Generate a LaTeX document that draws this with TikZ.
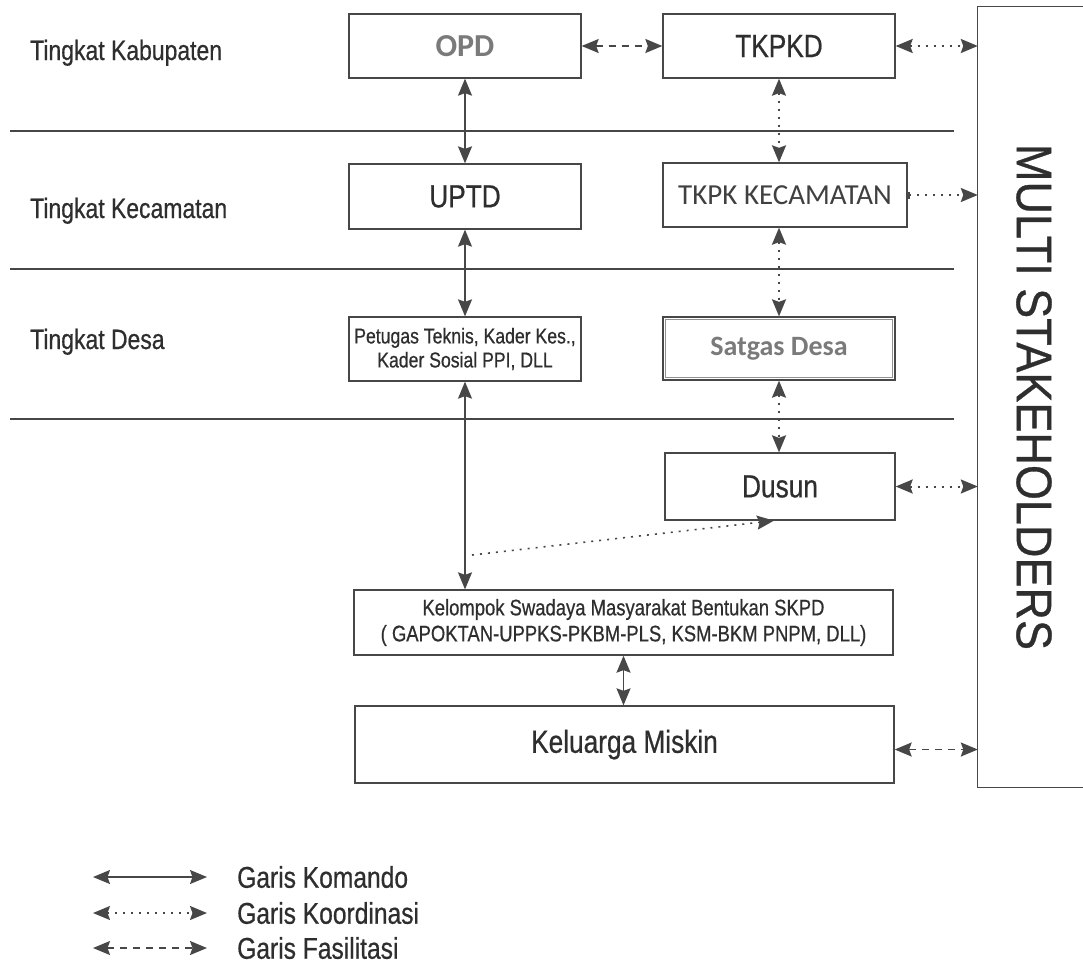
\documentclass[tikz,border=0pt]{standalone}
\usepackage{fontspec}
\setmainfont[FakeStretch=0.82,FakeBold=0.6]{Liberation Sans}
\newfontfamily\multifont[FakeStretch=0.9,FakeBold=0.6]{Liberation Sans}
\newfontfamily\calfont{Carlito}
\usetikzlibrary{arrows.meta}
\definecolor{linegray}{HTML}{474747}
\definecolor{textgray}{HTML}{2E2E2E}
\definecolor{softgray}{HTML}{7A7A7A}
\newcommand\fslabel{\fontsize{28}{32}\selectfont}
\newcommand\fsbox{\fontsize{32}{36}\selectfont}
\newcommand\fssmall{\fontsize{21.5}{24}\selectfont}
\newcommand\fskel{\fontsize{22.5}{26}\selectfont}
\newcommand\fsmulti{\multifont\fontsize{50}{56}\selectfont}
\tikzset{
  ujung/.tip={Stealth[length=17pt,width=14pt,inset=2.5pt]},
  kotak/.style={draw=linegray, line width=1.3pt, fill=white, inner sep=0pt, text=textgray, align=center},
  tingkat/.style={anchor=base west, inner sep=0pt, text=textgray, font=\fslabel},
  komando/.style={draw=linegray, line width=1.5pt, ujung-ujung},
  koordinasi/.style={draw=linegray, line width=2pt, dash pattern=on 2pt off 6pt, ujung-ujung},
  fasilitasi/.style={draw=linegray, line width=1.7pt, dash pattern=on 7pt off 6pt, ujung-ujung}
}
\begin{document}
\begin{tikzpicture}[x=1pt,y=-1pt]
	%%%%% START %%%%%
	\def\xkiri{465}
	\def\xkanan{779}
	\def\wkol{232pt}
	\def\hkol{64pt}
	\def\wbawah{539pt}
	
	\useasboundingbox (0,0) rectangle (1083,977);
	
	% garis tingkat
	\foreach \yy in {131,269,419}
		\draw[linegray, line width=1.2pt] (10,\yy) -- (954,\yy);
	
	\node[tingkat] (tkab) at (30,60) {Tingkat Kabupaten};
	\node[tingkat] (tkec) at (30,218) {Tingkat Kecamatan};
	\node[tingkat] (tdes) at (30,349) {Tingkat Desa};
	
	% kolom kiri
	\node[kotak, minimum width=\wkol, minimum height=\hkol, font=\calfont\bfseries\fontsize{32}{36}\selectfont, text=softgray] (opd) at (\xkiri,46) {OPD};
	\node[kotak, minimum width=\wkol, minimum height=65pt, font=\fsbox] (uptd) at (\xkiri,196.5) {UPTD};
	\node[kotak, minimum width=\wkol, minimum height=\hkol, font=\fssmall] (petugas) at (\xkiri,349) {Petugas Teknis, Kader Kes.,\\Kader Sosial PPI, DLL};
	
	% kolom kanan
	\node[kotak, minimum width=\wkol, minimum height=\hkol, font=\fsbox] (tkpkd) at (\xkanan,46) {TKPKD};
	\node[kotak, minimum width=244pt, minimum height=\hkol, font=\calfont\fontsize{29}{33}\selectfont, text=black!75] (tkpkkec) at (785,195) {TKPK KECAMATAN};
	\node[kotak, minimum width=\wkol, minimum height=63pt, font=\calfont\bfseries\fontsize{28}{32}\selectfont, text=softgray] (satgas) at (\xkanan,348.5) {Satgas Desa};
	\draw[linegray!60, line width=0.6pt] ([shift={(3pt,-3pt)}]satgas.north west) rectangle ([shift={(-3pt,3pt)}]satgas.south east);
	\node[kotak, minimum width=230pt, minimum height=67pt, font=\fsbox] (dusun) at (780,486.5) {Dusun};
	
	% bawah
	\node[kotak, minimum width=\wbawah, minimum height=65pt, font=\fskel] (kelompok) at (623.5,622.5) {Kelompok Swadaya Masyarakat Bentukan SKPD\\( GAPOKTAN-UPPKS-PKBM-PLS, KSM-BKM PNPM, DLL)};
	\node[kotak, minimum width=\wbawah, minimum height=77pt, font=\fsbox] (keluarga) at (624.5,744.5) {Keluarga Miskin};
	
	% multi stakeholders
	\node[inner sep=0pt, minimum width=105pt, minimum height=780pt] (multi) at (1030.5,397) {};
	\draw[linegray, line width=1.3pt] (multi.north east) -- (multi.north west) -- (multi.south west) -- (multi.south east);
	\node[rotate=-90, inner sep=0pt, text=textgray, font=\fsmulti] (multilbl) at (1034,397) {MULTI STAKEHOLDERS};
	
	% garis komando
	\draw[komando] (opd.south) -- (uptd.north);
	\draw[komando] (uptd.south) -- (petugas.north);
	\draw[komando] (petugas.south) -- (petugas.south |- kelompok.north);
	\draw[komando] (kelompok.south) -- (kelompok.south |- keluarga.north);
	
	% garis koordinasi
	\draw[koordinasi] (tkpkd.south) -- (tkpkd.south |- tkpkkec.north);
	\draw[koordinasi] (tkpkd.south |- tkpkkec.south) -- (satgas.north);
	\draw[koordinasi] (satgas.south) -- (satgas.south |- dusun.north);
	\draw[koordinasi] (tkpkd.east) -- (tkpkd.east -| multi.west);
	\draw[koordinasi, {Bar[width=7pt,length=0pt]}-ujung] (tkpkkec.east) -- (tkpkkec.east -| multi.west);
	\draw[koordinasi] (dusun.east) -- (dusun.east -| multi.west);
	\coordinate (dgawal) at (472,555);
	\draw[koordinasi, line width=1.6pt, -ujung] (dgawal) -- ([xshift=-6pt]dusun.south);
	
	% garis fasilitasi
	\draw[fasilitasi] (opd.east) -- (tkpkd.west);
	\draw[fasilitasi] ([yshift=-5pt]keluarga.east) -- ([yshift=-5pt]keluarga.east -| multi.west);
	
	% keterangan
	\coordinate (kmA) at (93,877);
	\coordinate (kmB) at (207,877);
	\coordinate (koA) at (93,913);
	\coordinate (koB) at (207,913);
	\coordinate (fsA) at (93,948);
	\coordinate (fsB) at (207,948);
	\draw[komando, line width=1.3pt] (kmA) -- (kmB);
	\draw[koordinasi, line width=1.5pt] (koA) -- (koB);
	\draw[fasilitasi, line width=1.5pt] (fsA) -- (fsB);
	\node[anchor=west, inner sep=0pt, text=textgray, font=\fontsize{30}{34}\selectfont] (ketkm) at (237,877) {Garis Komando};
	\node[anchor=west, inner sep=0pt, text=textgray, font=\fontsize{30}{34}\selectfont] (ketko) at (237,913) {Garis Koordinasi};
	\node[anchor=west, inner sep=0pt, text=textgray, font=\fontsize{30}{34}\selectfont] (ketfs) at (237,948) {Garis Fasilitasi};
	%%%%% END %%%%%
\end{tikzpicture}
\end{document}
